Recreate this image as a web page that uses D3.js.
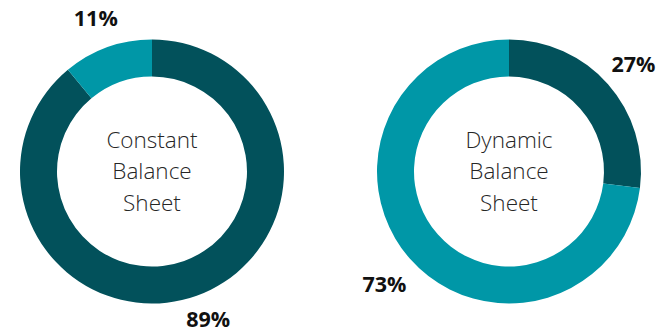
<!DOCTYPE html>
<html>
<head>
<meta charset="utf-8">
<script src="https://cdn.jsdelivr.net/npm/d3@7"></script>
<style>
  body { margin: 0; background: #fff; }
  svg { display: block; }
</style>
</head>
<body>
<div id="chart"></div>
<script>
// chart data
const charts = ['Constant Balance Sheet', 'Dynamic Balance Sheet'];
const titleLines = [['Constant', 'Balance', 'Sheet'], ['Dynamic', 'Balance', 'Sheet']];
const segments = ['Dark', 'Light'];
const constantValues = [89, 11];
const dynamicValues = [27, 73];
const seriesValues = [constantValues, dynamicValues];

const width = 661;
const height = 333;
const outerR = 132;
const innerR = 95;
const labelR = 166;
const centers = [152, 509];
const cy = 171.5;
const pctSize = 21.5;

const color = d3.scaleOrdinal()
                .domain(segments)
                .range(['#02515b', '#0097a7']);

const svg = d3.select('#chart')
              .append('svg')
              .attr('width', width)
              .attr('height', height);

const pie = d3.pie()
              .sort(null)
              .value((d) => d.value);

const arc = d3.arc()
              .innerRadius(innerR)
              .outerRadius(outerR);

const labelArc = d3.arc()
                   .innerRadius(labelR)
                   .outerRadius(labelR);

// baseline of a percent label, kept inside the bottom edge
function labelBaseline(d) {
  const y = labelArc.centroid(d)[1] + pctSize * 0.36 + 3;
  return Math.min(y, height - cy - 6.5);
}

charts.forEach((name, i) => {
  const data = segments.map((s, j) => ({ key: s, value: seriesValues[i][j] }));

  const g = svg.append('g')
               .attr('transform', 'translate(' + centers[i] + ',' + cy + ')');

  const arcs = pie(data);

  g.selectAll('path')
   .data(arcs)
   .enter()
   .append('path')
   .attr('d', arc)
   .attr('fill', (d) => color(d.data.key));

  g.selectAll('text.pct')
   .data(arcs)
   .enter()
   .append('text')
   .attr('class', 'pct')
   .attr('x', (d) => labelArc.centroid(d)[0])
   .attr('y', labelBaseline)
   .attr('text-anchor', 'middle')
   .style('font-family', '"Open Sans", sans-serif')
   .style('font-weight', 700)
   .style('font-size', pctSize + 'px')
   .style('fill', '#111')
   .text((d) => d.data.value + '%');

  g.selectAll('text.title')
   .data(titleLines[i])
   .enter()
   .append('text')
   .attr('class', 'title')
   .attr('text-anchor', 'middle')
   .attr('y', (d, k) => (k - 1) * 31.5 + 7.5)
   .style('font-family', '"Open Sans", sans-serif')
   .style('font-weight', 300)
   .style('font-size', '22.5px')
   .style('fill', '#262626')
   .text((d) => d);
});
</script>
</body>
</html>
